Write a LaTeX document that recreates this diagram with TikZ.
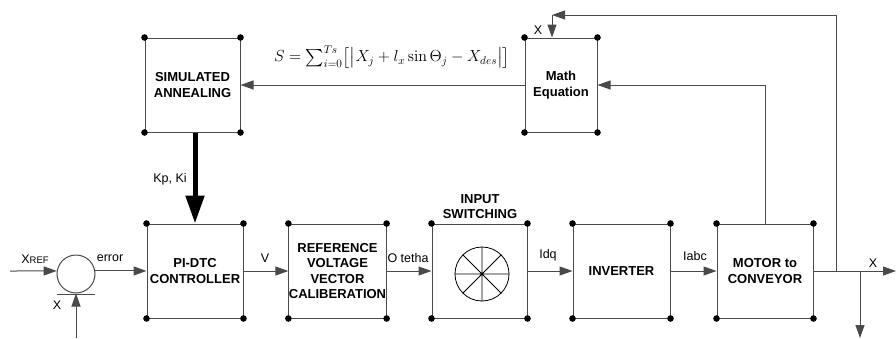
\RequirePackage{fix-cm}
\documentclass[tikz,border=0pt]{standalone}
\usepackage{amsmath}
\usepackage[no-math]{fontspec}
\setmainfont{Liberation Sans}
\usetikzlibrary{arrows.meta}
\definecolor{lc}{HTML}{4A4A4A}
\tikzset{
  ln/.style={draw=lc, line width=1pt},
  arr/.style={ln, -{Triangle[length=13pt,width=9pt]}},
  blk/.style={draw=lc, line width=1pt, rectangle, minimum height=94pt, inner sep=0pt,
     align=center, font=\fontsize{13}{15.5}\selectfont\bfseries},
  lbl/.style={font=\fontsize{12.5}{15}\selectfont, inner sep=0pt},
  cdot/.style={fill=black}
}
\newcommand{\boxdots}[1]{%
  \fill (#1.north west) circle (3.3pt);
  \fill (#1.north east) circle (3.3pt);
  \fill (#1.south west) circle (3.3pt);
  \fill (#1.south east) circle (3.3pt);}
\begin{document}
\begin{tikzpicture}[x=1pt,y=-1pt]
\useasboundingbox (0,0) rectangle (896,338);
% blocks
\node[blk, minimum width=96pt] (pi) at (195,271) {PI-DTC\\CONTROLLER};
\node[blk, minimum width=95pt] (ref) at (337.5,271) {REFERENCE\\VOLTAGE\\VECTOR\\CALIBERATION};
\node[blk, minimum width=95pt] (sw) at (479.5,271) {};
\node[blk, minimum width=97pt] (inv) at (621.5,271) {INVERTER};
\node[blk, minimum width=96pt] (mot) at (765,271) {MOTOR to\\CONVEYOR};
\node[blk, minimum width=95pt] (sa) at (192.5,85) {SIMULATED\\ANNEALING};
\node[blk, minimum width=72pt] (math) at (561,85) {Math\\Equation};
\boxdots{pi}\boxdots{ref}\boxdots{sw}\boxdots{inv}\boxdots{mot}\boxdots{sa}\boxdots{math}
% switching symbol
\node[draw=black, line width=0.8pt, circle, minimum size=54pt, inner sep=0pt] (sym) at (482,274) {};
\draw[line width=0.8pt] (sym.0) -- (sym.180) (sym.90) -- (sym.270) (sym.45) -- (sym.225) (sym.135) -- (sym.315);
\node[font=\fontsize{13}{15}\selectfont\bfseries, align=center, inner sep=0pt] (swt) at (480,206.5) {INPUT\\SWITCHING};
% summing junction
\node[draw=lc, line width=1pt, circle, minimum size=38pt, inner sep=0pt] (sum) at (76,274) {};
\coordinate (ul) at (57,294);
\coordinate (ur) at (95,294);
\draw[ln] (ul) -- (ur);
\coordinate (xin) at (10,271);
\coordinate (xfb) at (76,338);
\draw[arr] (xin) -- (sum.171);
\draw[arr] (xfb) -- (sum.south);
\node[lbl] (xref) at (35,259) {X{\fontsize{9.5}{10}\selectfont REF}};
\node[lbl] (xb) at (57,305) {X};
% main chain
\draw[arr] (sum.9) -- (pi.west |- sum.9);
\node[lbl] (err) at (110,258) {error};
\draw[arr] (pi.east) -- (ref.west);
\node[lbl] (v) at (265,258) {V};
\draw[arr] (ref.east) -- (sw.west);
\node[lbl] (th) at (408,258) {O tetha};
\draw[arr] (sw.east) -- (inv.west);
\node[lbl] (idq) at (548,255) {Idq};
\draw[arr] (inv.east) -- (mot.west);
\node[lbl] (iabc) at (695,256) {Iabc};
% output
\coordinate (out) at (896,271);
\coordinate (tap1) at (836,271);
\coordinate (tap2) at (860,271);
\coordinate (down) at (860,338);
\draw[arr] (mot.east) -- (out);
\draw[arr] (tap2) -- (down);
\node[lbl] (xo) at (873,263) {X};
% feedback to math
\draw[arr] (mot.north) |- (math.east);
\coordinate (corn) at (552,15);
\draw[arr] (tap1) |- (corn);
\draw[arr] (corn) -- (corn |- math.north);
\node[lbl] (xm) at (538,30) {X};
% math -> SA
\draw[arr] (math.west) -- (sa.east);
\node[inner sep=0pt, font=\fontsize{16}{18}\selectfont] (eq) at (392,57)
  {$S=\sum_{i=0}^{Ts}\bigl[\bigl|X_j+l_x\sin\Theta_j-X_{des}\bigr|\bigr]$};
% SA -> PI thick
\draw[draw=black, line width=5pt, -{Triangle[length=28pt,width=18pt]}] (sa.south -| pi.north) -- (pi.north);
\node[lbl] (kp) at (170,179) {Kp, Ki};
\end{tikzpicture}
\end{document}
